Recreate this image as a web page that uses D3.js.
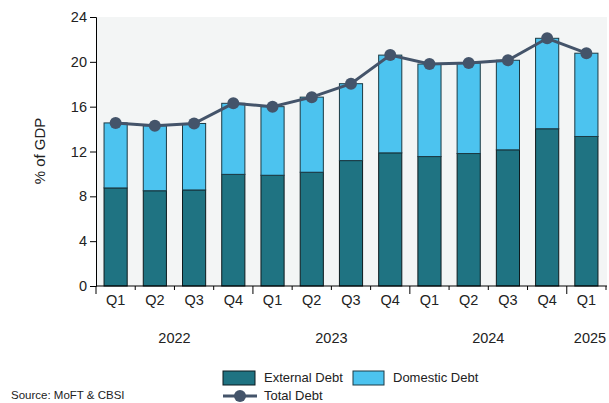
<!DOCTYPE html>
<html>
<head>
<meta charset="utf-8">
<script src="https://cdn.jsdelivr.net/npm/d3@7"></script>
<style>
  body { margin: 0; background: #fff; }
  svg { display: block; font-family: "Liberation Sans", Arial, sans-serif; }
</style>
</head>
<body>
<div id="chart"></div>
<script>
// quarters and years along the bottom
var quarters = ["Q1", "Q2", "Q3", "Q4", "Q1", "Q2", "Q3", "Q4", "Q1", "Q2", "Q3", "Q4", "Q1"];
var years = ["2022", "2023", "2024", "2025"];
var yearStart = [0, 4, 8, 12];

// % of GDP
var externalDebt = [8.75, 8.5, 8.57, 9.96, 9.88, 10.15, 11.19, 11.88, 11.55, 11.82, 12.15, 14.03, 13.34];
var domesticDebt = [5.8, 5.8, 5.93, 6.34, 6.12, 6.7, 6.86, 8.72, 8.25, 8.08, 7.99, 8.07, 7.43];
var totalDebt = [14.55, 14.3, 14.5, 16.3, 16.0, 16.85, 18.05, 20.6, 19.8, 19.9, 20.14, 22.1, 20.77];

var yTicks = [0, 4, 8, 12, 16, 20, 24];

var width = 609, height = 403;
var margin = {top: 17, right: 2, bottom: 117, left: 96};

var svg = d3.select("#chart").append("svg")
    .attr("width", width)
    .attr("height", height);

var x = d3.scaleBand()
    .domain(d3.range(quarters.length))
    .range([margin.left, 606])
    .paddingInner(0.41)
    .paddingOuter(0.205);

var y = d3.scaleLinear()
    .domain([0, 24])
    .range([286, margin.top]);

// plot area background
svg.append("rect")
    .attr("x", margin.left)
    .attr("y", margin.top)
    .attr("width", 607 - margin.left)
    .attr("height", y(0) - margin.top)
    .attr("fill", "#f3f5f5");

// stacked bars
var bars = svg.append("g");
bars.selectAll(".ext")
    .data(externalDebt)
    .enter().append("rect")
    .attr("class", "ext")
    .attr("x", function (d, i) { return x(i); })
    .attr("y", function (d) { return y(d); })
    .attr("width", x.bandwidth())
    .attr("height", function (d) { return y(0) - y(d); })
    .attr("fill", "#1f7382")
    .attr("stroke", "#0d1a1e")
    .attr("stroke-width", 1);

bars.selectAll(".dom")
    .data(domesticDebt)
    .enter().append("rect")
    .attr("class", "dom")
    .attr("x", function (d, i) { return x(i); })
    .attr("y", function (d, i) { return y(externalDebt[i] + d); })
    .attr("width", x.bandwidth())
    .attr("height", function (d) { return y(0) - y(d); })
    .attr("fill", "#4cc3ef")
    .attr("stroke", "#1c3a44")
    .attr("stroke-width", 1);

// total debt line
var line = d3.line()
    .x(function (d, i) { return x(i) + x.bandwidth() / 2; })
    .y(function (d) { return y(d); });

svg.append("path")
    .datum(totalDebt)
    .attr("d", line)
    .attr("fill", "none")
    .attr("stroke", "#44546a")
    .attr("stroke-width", 3);

svg.selectAll(".dot")
    .data(totalDebt)
    .enter().append("circle")
    .attr("class", "dot")
    .attr("cx", function (d, i) { return x(i) + x.bandwidth() / 2; })
    .attr("cy", function (d) { return y(d); })
    .attr("r", 6)
    .attr("fill", "#44546a");

// y axis
var yAxis = svg.append("g")
    .attr("transform", "translate(" + margin.left + ",0)")
    .call(d3.axisLeft(y).tickValues(yTicks).tickSize(6).tickPadding(3));
yAxis.select(".domain").attr("stroke", "#000");
yAxis.selectAll(".tick line").attr("stroke", "#000");
yAxis.selectAll("text")
    .attr("font-size", "14.5px")
    .attr("fill", "#222");

svg.append("text")
    .attr("transform", "translate(45,151) rotate(-90)")
    .attr("text-anchor", "middle")
    .attr("font-size", "15px")
    .attr("fill", "#222")
    .text("% of GDP");

// x axis with quarter boundaries
var step = x.step();
var xAxis = svg.append("g");
xAxis.append("line")
    .attr("x1", margin.left)
    .attr("x2", 607)
    .attr("y1", y(0))
    .attr("y2", y(0))
    .attr("stroke", "#000");

xAxis.selectAll(".qtick")
    .data(d3.range(quarters.length + 1))
    .enter().append("line")
    .attr("class", "qtick")
    .attr("x1", function (d) { return margin.left + d * step; })
    .attr("x2", function (d) { return margin.left + d * step; })
    .attr("y1", y(0))
    .attr("y2", function (d) { return yearStart.indexOf(d) >= 0 ? y(0) + 8 : y(0) + 4; })
    .attr("stroke", "#000");

xAxis.selectAll(".qlabel")
    .data(quarters)
    .enter().append("text")
    .attr("class", "qlabel")
    .attr("x", function (d, i) { return x(i) + x.bandwidth() / 2; })
    .attr("y", 305)
    .attr("text-anchor", "middle")
    .attr("font-size", "14.5px")
    .attr("fill", "#222")
    .text(function (d) { return d; });

xAxis.selectAll(".ylabel")
    .data(years)
    .enter().append("text")
    .attr("class", "ylabel")
    .attr("x", function (d, i) {
        var s = yearStart[i];
        var e = i < years.length - 1 ? yearStart[i + 1] : s + 1;
        var mid = margin.left + (s + e) / 2 * step;
        return i === years.length - 1 ? 590 : mid;
    })
    .attr("y", 343)
    .attr("text-anchor", "middle")
    .attr("font-size", "14.5px")
    .attr("fill", "#222")
    .text(function (d) { return d; });

// legend
var legend = svg.append("g");
legend.append("rect")
    .attr("x", 223).attr("y", 371)
    .attr("width", 32).attr("height", 14)
    .attr("fill", "#1f7382").attr("stroke", "#0d1a1e");
legend.append("text")
    .attr("x", 264).attr("y", 382)
    .attr("font-size", "13px").attr("fill", "#222")
    .text("External Debt");
legend.append("rect")
    .attr("x", 353).attr("y", 371)
    .attr("width", 31).attr("height", 14)
    .attr("fill", "#4cc3ef").attr("stroke", "#1c3a44");
legend.append("text")
    .attr("x", 393).attr("y", 382)
    .attr("font-size", "13px").attr("fill", "#222")
    .text("Domestic Debt");
legend.append("line")
    .attr("x1", 223).attr("x2", 257)
    .attr("y1", 396).attr("y2", 396)
    .attr("stroke", "#44546a").attr("stroke-width", 3);
legend.append("circle")
    .attr("cx", 240).attr("cy", 396).attr("r", 6)
    .attr("fill", "#44546a");
legend.append("text")
    .attr("x", 264).attr("y", 400)
    .attr("font-size", "13px").attr("fill", "#222")
    .text("Total Debt");

svg.append("text")
    .attr("x", 11).attr("y", 399)
    .attr("font-size", "11.5px").attr("fill", "#222")
    .text("Source: MoFT & CBSI");
</script>
</body>
</html>
